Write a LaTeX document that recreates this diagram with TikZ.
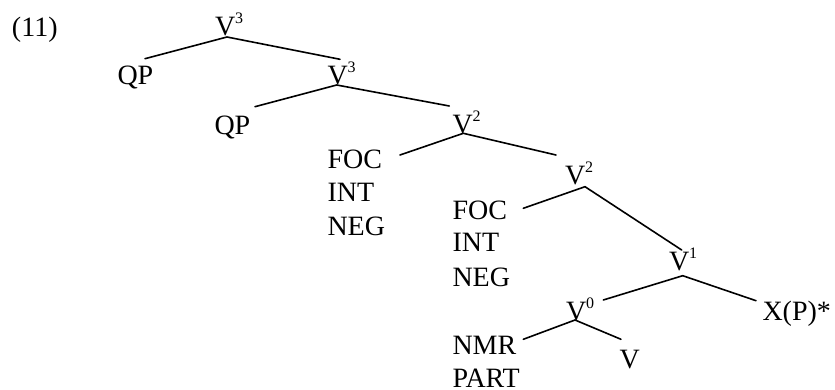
\documentclass[tikz,border=0pt]{standalone}
\usepackage{fontspec}
\setmainfont{Liberation Serif}
\newcommand{\supr}[1]{\raisebox{12pt}{\fontsize{16}{16}\selectfont #1}}
\begin{document}
\begin{tikzpicture}[x=1pt,y=-1pt,
  lbl/.style={inner sep=0pt,outer sep=0pt,anchor=base west,font=\fontsize{28}{33}\selectfont},
  branch/.style={line width=1.6pt,line cap=round,line join=miter}]
\useasboundingbox (0,0) rectangle (835,390);
% labels
\node[lbl] (num) at (12,37) {(11)};
\node[lbl] (v3a) at (215,36) {V\supr{3}};
\node[lbl] (qpa) at (117.5,84.5) {QP};
\node[lbl] (v3b) at (327.5,85) {V\supr{3}};
\node[lbl] (qpb) at (214.5,135) {QP};
\node[lbl] (v2a) at (452.5,133.5) {V\supr{2}};
\node[lbl] (foca) at (327.5,168.3) {FOC};
\node[lbl] (inta) at (327.5,201.7) {INT};
\node[lbl] (nega) at (327.5,235) {NEG};
\node[lbl] (v2b) at (565,185) {V\supr{2}};
\node[lbl] (focb) at (452.5,219) {FOC};
\node[lbl] (intb) at (452.5,251.7) {INT};
\node[lbl] (negb) at (452.5,286) {NEG};
\node[lbl] (v1) at (669,270) {V\supr{1}};
\node[lbl] (xp) at (762.5,320.7) {X(P)*};
\node[lbl] (v0) at (566,320) {V\supr{0}};
\node[lbl] (nmr) at (452.5,354) {NMR};
\node[lbl] (part) at (452.5,387) {PART};
\node[lbl] (vv) at (619.5,368.3) {V};
% junctions and branch ends
\coordinate (j1) at (227,37);
\coordinate (j1l) at (145,58.7);
\coordinate (j1r) at (340,59.3);
\coordinate (j2) at (336.7,85);
\coordinate (j2l) at (255,106.7);
\coordinate (j2r) at (449.3,106);
\coordinate (j3) at (463.3,133.3);
\coordinate (j3l) at (400,155);
\coordinate (j3r) at (556,155);
\coordinate (j4) at (585,186.7);
\coordinate (j4l) at (523.3,208.3);
\coordinate (j4r) at (681.7,250);
\coordinate (j5) at (682.7,275.7);
\coordinate (j5l) at (603.3,300);
\coordinate (j5r) at (756,300.7);
\coordinate (j6) at (575,320);
\coordinate (j6l) at (523.3,339.3);
\coordinate (j6r) at (621,339.3);
\draw[branch] (j1l) -- (j1) -- (j1r);
\draw[branch] (j2l) -- (j2) -- (j2r);
\draw[branch] (j3l) -- (j3) -- (j3r);
\draw[branch] (j4l) -- (j4) -- (j4r);
\draw[branch] (j5l) -- (j5) -- (j5r);
\draw[branch] (j6l) -- (j6) -- (j6r);
\end{tikzpicture}
\end{document}
